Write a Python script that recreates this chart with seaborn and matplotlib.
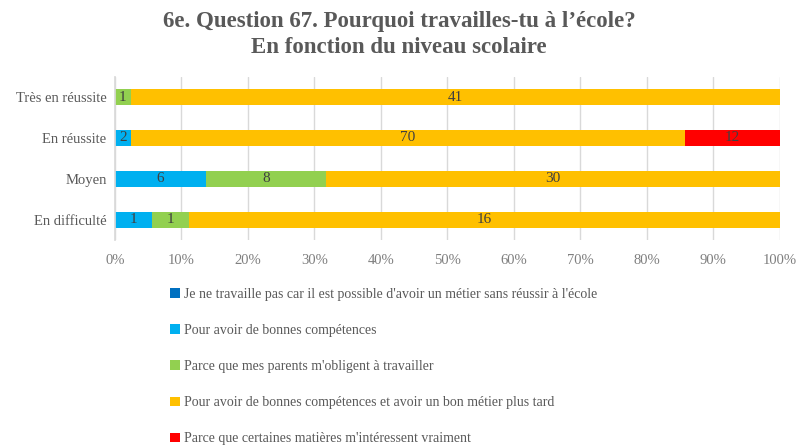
import matplotlib
matplotlib.use("Agg")
import matplotlib.pyplot as plt
import seaborn as sns
import numpy as np
import pandas as pd
from matplotlib.patches import Patch

categories = ["Très en réussite", "En réussite", "Moyen", "En difficulté"]
series_names = [
    "Je ne travaille pas car il est possible d'avoir un métier sans réussir à l'école",
    "Pour avoir de bonnes compétences",
    "Parce que mes parents m'obligent à travailler",
    "Pour avoir de bonnes compétences et avoir un bon métier plus tard",
    "Parce que certaines matières m'intéressent vraiment",
]
s_pas = [0, 0, 0, 0]
s_comp = [0, 2, 6, 1]
s_parents = [1, 0, 8, 1]
s_metier = [41, 70, 30, 16]
s_matieres = [0, 12, 0, 0]
colors = ["#0070C0", "#00B0F0", "#92D050", "#FFC000", "#FF0000"]

sns.set_theme(style="white")
plt.rcParams["font.family"] = ["Liberation Serif", "DejaVu Serif"]

vals = np.array([s_pas, s_comp, s_parents, s_metier, s_matieres], dtype=float)
totals = vals.sum(axis=0)
pct = vals / totals
cum = np.cumsum(pct, axis=0)

fig = plt.figure(figsize=(7.98, 4.48), dpi=100)
ax = fig.add_axes([0.144, 0.464, 0.833, 0.365])

for k in range(len(series_names) - 1, -1, -1):
    df = pd.DataFrame({"cat": categories, "val": cum[k]})
    sns.barplot(data=df, x="val", y="cat", color=colors[k], width=0.4,
                saturation=1, ax=ax, zorder=2, edgecolor="none", linewidth=0)

for k in range(len(series_names)):
    for i, c in enumerate(categories):
        v = vals[k, i]
        if v > 0:
            center = cum[k, i] - pct[k, i] / 2
            ax.text(center, i, f"{int(v)}", ha="center", va="center",
                    fontsize=11, color="#404040", zorder=3)

ax.set_xlim(0, 1)
ax.set_ylim(3.5, -0.5)
ax.set_xticks(np.linspace(0, 1, 11))
ax.set_xticklabels([f"{int(t)}%" for t in range(0, 101, 10)])
ax.set_xlabel("")
ax.set_ylabel("")
ax.xaxis.grid(True, color="#D9D9D9", linewidth=1, zorder=0)
ax.set_axisbelow(True)
for s in ["top", "right", "bottom"]:
    ax.spines[s].set_visible(False)
ax.spines["left"].set_color("#D9D9D9")
ax.tick_params(axis="y", length=0, labelsize=10.5, labelcolor="#595959", pad=6)
ax.tick_params(axis="x", length=0, labelsize=10.5, labelcolor="#7F7F7F", pad=10)

fig.text(0.5, 0.953, "6e. Question 67. Pourquoi travailles-tu à l’école?",
         ha="center", va="center", fontsize=16.5, fontweight="bold", color="#595959")
fig.text(0.5, 0.893, "En fonction du niveau scolaire",
         ha="center", va="center", fontsize=16.5, fontweight="bold", color="#595959")

handles = [Patch(facecolor=c, edgecolor="none") for c in colors]
leg = fig.legend(handles, series_names, loc="upper left",
                 bbox_to_anchor=(0.213, 0.357), frameon=False, fontsize=10,
                 handlelength=0.7, handleheight=0.7, handletextpad=0.3,
                 labelspacing=1.66, borderpad=0, borderaxespad=0)
for t in leg.get_texts():
    t.set_color("#595959")

fig.savefig("out.png", dpi=100)
